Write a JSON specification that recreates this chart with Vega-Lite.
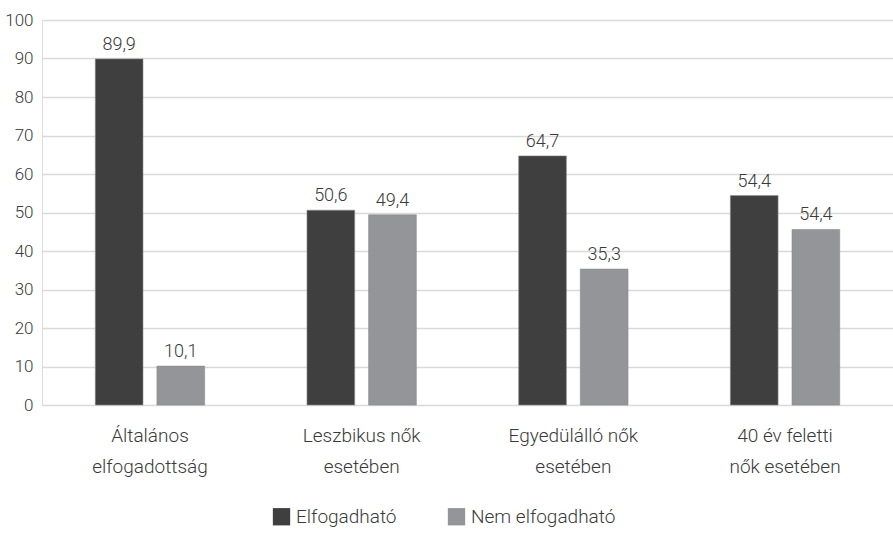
{
  "$schema": "https://vega.github.io/schema/vega-lite/v6.json",
  "autosize": {"type": "none"},
  "padding": {"left": 42, "top": 20, "right": 0, "bottom": 136},
  "width": 851,
  "height": 385,
  "background": "white",
  "data": {
    "values": [
      {"kat": "Általános elfogadottság", "csoport": "Elfogadható", "ertek": 89.9, "cimke": "89,9"},
      {"kat": "Általános elfogadottság", "csoport": "Nem elfogadható", "ertek": 10.1, "cimke": "10,1"},
      {"kat": "Leszbikus nők esetében", "csoport": "Elfogadható", "ertek": 50.6, "cimke": "50,6"},
      {"kat": "Leszbikus nők esetében", "csoport": "Nem elfogadható", "ertek": 49.4, "cimke": "49,4"},
      {"kat": "Egyedülálló nők esetében", "csoport": "Elfogadható", "ertek": 64.7, "cimke": "64,7"},
      {"kat": "Egyedülálló nők esetében", "csoport": "Nem elfogadható", "ertek": 35.3, "cimke": "35,3"},
      {"kat": "40 év feletti nők esetében", "csoport": "Elfogadható", "ertek": 54.4, "cimke": "54,4"},
      {"kat": "40 év feletti nők esetében", "csoport": "Nem elfogadható", "ertek": 45.6, "cimke": "54,4"}
    ]
  },
  "encoding": {
    "x": {
      "field": "kat",
      "type": "nominal",
      "sort": null,
      "scale": {"paddingInner": 0, "paddingOuter": 0.01},
      "axis": {
        "title": null,
        "labelAngle": 0,
        "ticks": false,
        "domain": false,
        "labelFont": "Roboto",
        "labelFontWeight": 300,
        "labelFontSize": 19,
        "labelColor": "#3a3a3a",
        "labelPadding": 21,
        "labelLineHeight": 31,
        "labelExpr": "datum.label == 'Általános elfogadottság' ? ['Általános', 'elfogadottság'] : datum.label == 'Leszbikus nők esetében' ? ['Leszbikus nők', 'esetében'] : datum.label == 'Egyedülálló nők esetében' ? ['Egyedülálló nők', 'esetében'] : ['40 év feletti', 'nők esetében']"
      }
    },
    "xOffset": {
      "field": "csoport",
      "type": "nominal",
      "sort": null,
      "scale": {"paddingInner": 0.226, "paddingOuter": 0.83}
    },
    "y": {
      "field": "ertek",
      "type": "quantitative",
      "scale": {"domain": [0, 100], "nice": false},
      "axis": {
        "title": null,
        "values": [0, 10, 20, 30, 40, 50, 60, 70, 80, 90, 100],
        "labelOverlap": false,
        "domain": false,
        "ticks": false,
        "labelPadding": 9,
        "labelFont": "Roboto",
        "labelFontWeight": 300,
        "labelFontSize": 17,
        "labelColor": "#3a3a3a",
        "gridColor": "#d9d9d9",
        "gridWidth": 1.3
      }
    }
  },
  "layer": [
    {
      "mark": {"type": "bar", "strokeWidth": 1, "stroke": "#8a8a8a", "strokeOpacity": 0.6},
      "encoding": {
        "color": {
          "field": "csoport",
          "type": "nominal",
          "sort": null,
          "scale": {"domain": ["Elfogadható", "Nem elfogadható"], "range": ["#3f3f3f", "#939598"]},
          "legend": {
            "title": null,
            "orient": "none",
            "legendX": 230,
            "legendY": 487,
            "direction": "horizontal",
            "symbolType": "square",
            "symbolSize": 300,
            "symbolStrokeWidth": 0,
            "symbolOpacity": 1,
            "labelFont": "Roboto",
            "labelFontWeight": 300,
            "labelFontSize": 19,
            "labelColor": "#3a3a3a",
            "columnPadding": 50,
            "labelOffset": 5
          }
        }
      }
    },
    {
      "mark": {"type": "text", "baseline": "bottom", "dy": -5, "font": "Roboto", "fontWeight": 300, "fontSize": 18, "color": "#3a3a3a"},
      "encoding": {
        "text": {"field": "cimke", "type": "nominal"}
      }
    }
  ]
}
